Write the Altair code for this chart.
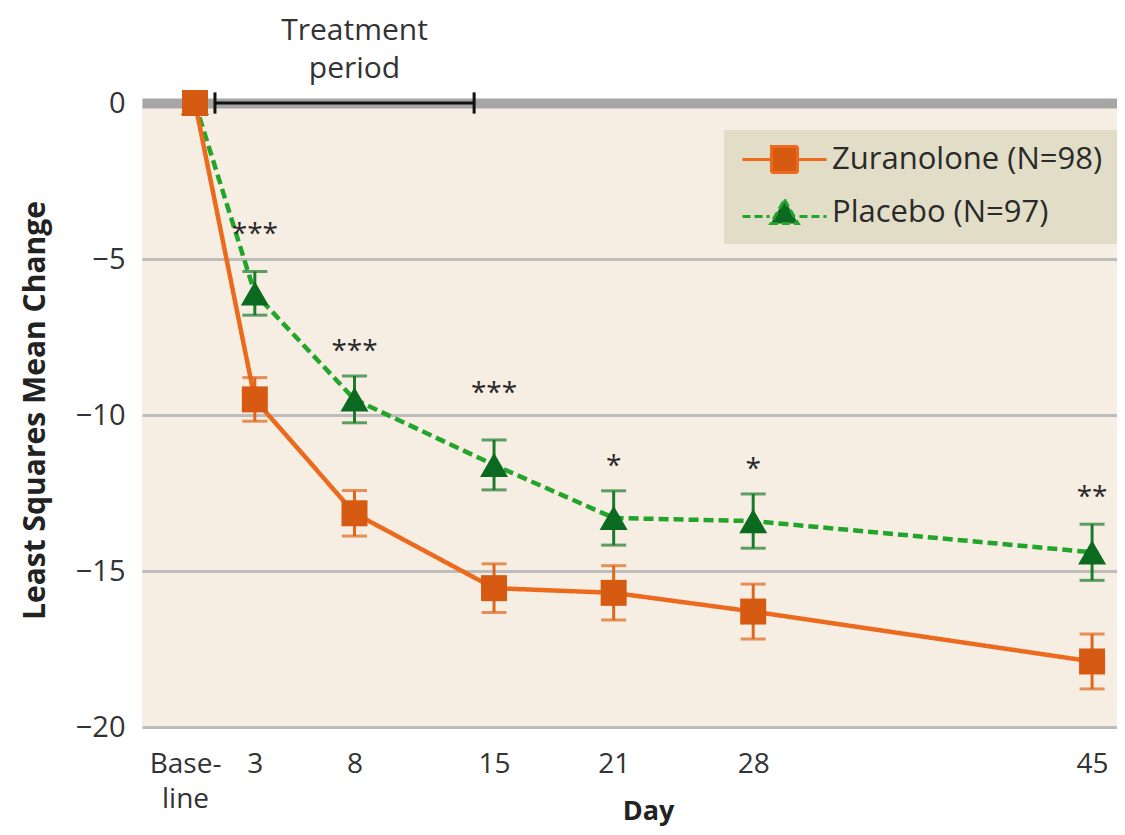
import altair as alt
import pandas as pd

# ---------------- data ----------------
days = [0, 3, 8, 15, 21, 28, 45]
series_names = ["Zuranolone (N=98)", "Placebo (N=97)"]
zur_mean = [0.0, -9.5, -13.15, -15.55, -15.7, -16.3, -17.9]
zur_err = [0.0, 0.7, 0.73, 0.78, 0.87, 0.88, 0.88]
pla_mean = [0.0, -6.1, -9.5, -11.6, -13.3, -13.4, -14.4]
pla_err = [0.0, 0.7, 0.75, 0.8, 0.87, 0.87, 0.9]

sig_days = [3, 8, 15, 21, 28, 45]
sig_labels = ["***", "***", "***", "*", "*", "**"]
sig_y = [-4.0, -7.75, -9.1, -11.45, -11.55, -12.45]

x_tick_values = days
y_tick_values = [0, -5, -10, -15, -20]
treatment_days = [1, 14]
treatment_label = "Treatment\nperiod"
treatment_label_pos = [8.0, 2.02]

# ---------------- styles ----------------
FONT = "Open Sans"
orange_marker = "#d65a12"
orange_line = "#ec6a1e"
orange_err = "#de661d"
green_marker = "#0b6a1f"
green_line = "#22a52a"
green_err = "#1d7a2d"
text_color = "#333333"
PLACEBO = "datum.series === '%s'" % series_names[1]

rows = []
for name, means, errs in [(series_names[1], pla_mean, pla_err),
                          (series_names[0], zur_mean, zur_err)]:
    for d, m, e in zip(days, means, errs):
        rows.append(dict(day=d, series=name, mean=m, lo=m + e, hi=m - e, err=e))
df = pd.DataFrame(rows)
df_err = df[df["err"] > 0]

df_sig = pd.DataFrame({"day": sig_days, "y": sig_y, "label": sig_labels})
df_treat = pd.DataFrame({"start": [treatment_days[0]], "end": [treatment_days[1]], "zero": [0.0]})
df_caps = pd.DataFrame({"day": treatment_days})
df_tlabel = pd.DataFrame({"day": [treatment_label_pos[0]], "y": [treatment_label_pos[1]],
                          "text": [treatment_label]})

xs = alt.Scale(domain=[-2.66, 46.25], nice=False, zero=False)
ys = alt.Scale(domain=[-20, 0], nice=False, zero=False)

x_axis = alt.Axis(
    values=x_tick_values, grid=False, domain=False, ticks=False, tickSize=0,
    labelExpr="datum.value === 0 ? ['Base-', 'line'] : datum.label",
    labelOffset={"condition": {"test": "datum.value === 0", "value": -10}, "value": 0},
    labelFont=FONT, labelFontSize=28, labelColor=text_color, labelPadding=45,
    labelBaseline="alphabetic", labelLineHeight=35, labelOverlap=False, labelFlush=False,
    titleFont=FONT, titleFontSize=27, titleFontWeight="bold", titleColor="#222222",
    titleX=506, titleY=92, titleBaseline="alphabetic", titleAlign="center",
)
y_axis = alt.Axis(
    values=y_tick_values, grid=True,
    gridColor={"condition": {"test": "datum.value === 0", "value": "#a6a6a6"}, "value": "#bcbcbc"},
    gridWidth={"condition": {"test": "datum.value === 0", "value": 10}, "value": 3},
    domain=False, ticks=False, tickSize=0,
    labelFont=FONT, labelFontSize=29, labelColor=text_color, labelPadding=17,
    titleFont=FONT, titleFontSize=30, titleFontWeight="bold", titleColor="#222222",
    titleAngle=270, titleAlign="center", titleBaseline="middle", titleX=-107, titleY=307,
)

X = alt.X("day:Q", scale=xs, axis=x_axis, title="Day")
YT = "Least Squares Mean Change"

def Yf(field):
    return alt.Y(field, scale=ys, axis=y_axis, title=YT)

base = alt.Chart(df)

lines = base.mark_line(strokeWidth=4.5).encode(
    x=X, y=Yf("mean:Q"), detail="series:N",
    color=alt.condition(PLACEBO, alt.value(green_line), alt.value(orange_line)),
    strokeDash=alt.condition(PLACEBO, alt.value([10, 5]), alt.value([1, 0])),
)

bracket = alt.Chart(df_treat).mark_rule(color="#111111", strokeWidth=3).encode(
    x=alt.X("start:Q", scale=xs, axis=x_axis, title="Day"), x2="end:Q", y=Yf("zero:Q"))
caps = alt.Chart(df_caps).transform_calculate(top="0.34", bot="-0.34").mark_rule(
    color="#111111", strokeWidth=3).encode(x=X, y=Yf("top:Q"), y2="bot:Q")

err_color = alt.condition(PLACEBO, alt.value(green_err), alt.value(orange_err))
err_rule = alt.Chart(df_err).mark_rule(strokeWidth=3).encode(
    x=X, y=Yf("lo:Q"), y2="hi:Q", color=err_color)
err_lo = alt.Chart(df_err).mark_tick(orient="horizontal", size=25, thickness=3).encode(
    x=X, y=Yf("lo:Q"), color=err_color)
err_hi = alt.Chart(df_err).mark_tick(orient="horizontal", size=25, thickness=3).encode(
    x=X, y=Yf("hi:Q"), color=err_color)

points = base.mark_point(filled=True, opacity=1).encode(
    x=X, y=Yf("mean:Q"),
    shape=alt.condition(PLACEBO, alt.value("triangle-up"), alt.value("square")),
    size=alt.condition(PLACEBO, alt.value(784), alt.value(676)),
    color=alt.condition(PLACEBO, alt.value(green_marker), alt.value(orange_marker)),
)

stars = alt.Chart(df_sig).mark_text(font=FONT, fontSize=28, color="#2a2a2a",
                                    baseline="alphabetic", dy=15).encode(
    x=X, y=Yf("y:Q"), text="label:N")

tlabel = alt.Chart(df_tlabel).mark_text(font=FONT, fontSize=30, color=text_color,
                                        baseline="alphabetic", align="center",
                                        lineBreak="\n", lineHeight=38).encode(
    x=X, y=Yf("y:Q"), text="text:N")

# legend built by the library from an (empty) layer carrying the series scales
legend_paths = [
    "M-3.23,0H-1M1,0H3.23M-1,-1H1V1H-1Z",
    "M-3.23,0.3H-1.15M1.15,0.3H3.23M0,-1L1.05,0.85L-1.05,0.85Z",
]
leg = alt.Legend(title=None, orient="none", legendX=582, legendY=27,
                 fillColor="#e2ddc6", padding=14, rowPadding=14,
                 symbolSize=676, symbolStrokeWidth=3, symbolOffset=31, labelOffset=32,
                 labelFont=FONT, labelFontSize=31, labelColor="#2a2a2a", labelLimit=500)
legend_layer = base.transform_filter("datum.day < -100").mark_point(filled=True, opacity=1).encode(
    x=X, y=Yf("mean:Q"),
    fill=alt.Fill("series:N", scale=alt.Scale(domain=series_names, range=[orange_marker, green_marker]), legend=leg),
    stroke=alt.Stroke("series:N", scale=alt.Scale(domain=series_names, range=[orange_line, green_line]), legend=leg),
    shape=alt.Shape("series:N", scale=alt.Scale(domain=series_names, range=legend_paths), legend=leg),
    strokeDash=alt.StrokeDash("series:N", scale=alt.Scale(domain=series_names, range=[[1, 0], [8, 4]]), legend=leg),
)

chart = alt.layer(
    lines, bracket, caps, err_rule, err_lo, err_hi, points, stars, tlabel, legend_layer
).properties(
    width=975, height=624,
    autosize=alt.AutoSizeParams(type="none"),
    padding={"left": 134, "top": 95, "right": 0, "bottom": 100},
    background="white",
).configure_view(stroke=None, fill="#f6eee2")

chart.save("out.html", embed_options={"renderer": "svg", "actions": False})
